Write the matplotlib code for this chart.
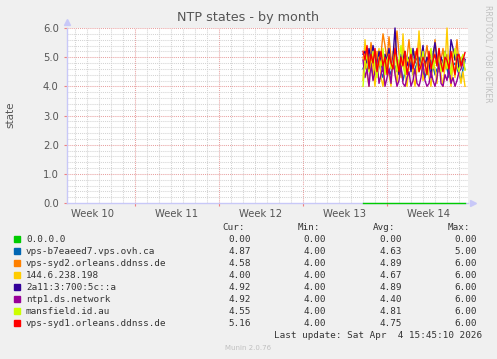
import numpy as np
import matplotlib.pyplot as plt
from matplotlib.patches import Rectangle
from matplotlib.transforms import blended_transform_factory

# --- data ---
# time axis in days from the left edge of the graph, 4 hour steps
t_start = 24.67
t_step = 1 / 6.0

names = ['0.0.0.0', 'vps-b7eaeed7.vps.ovh.ca', 'vps-syd2.orleans.ddnss.de',
         '144.6.238.198', '2a11:3:700:5c::a', 'ntp1.ds.network',
         'mansfield.id.au', 'vps-syd1.orleans.ddnss.de']
colors = ['#00CC00', '#0066B3', '#FF8000', '#FFCC00', '#330099', '#990099',
          '#CCFF00', '#FF0000']

green = [0.0] * 52
blue = [4.6, 4.8, 4.5, 4.9, 4.7, 4.4, 4.6, 5.0, 4.8, 4.5, 4.3, 4.7, 4.9,
        4.6, 4.4, 4.8, 4.7, 4.5, 4.9, 4.6, 4.2, 4.5, 4.8, 4.7, 4.9, 4.4,
        4.6, 4.8, 5.0, 4.7, 4.5, 4.3, 4.6, 4.8, 4.9, 4.7, 4.4, 4.6, 4.5,
        4.8, 4.7, 4.9, 4.6, 4.3, 4.5, 4.7, 4.8, 4.6, 4.4, 4.2, 4.6, 4.87]
orange = [5.0, 4.6, 5.3, 4.8, 5.5, 4.9, 4.4, 5.2, 4.7, 5.1, 5.8, 5.4, 4.9,
          5.7, 5.0, 4.6, 5.3, 5.9, 5.1, 4.8, 5.4, 4.7, 5.0, 5.6, 4.8, 4.5,
          5.2, 4.9, 5.7, 5.1, 4.6, 5.0, 5.4, 4.8, 5.2, 4.7, 5.6, 5.0, 4.5,
          4.9, 5.3, 4.6, 5.1, 4.8, 4.4, 5.2, 4.9, 5.6, 4.7, 5.0, 4.8, 4.58]
yellow = [4.2, 5.6, 4.4, 4.0, 5.1, 4.6, 4.0, 4.8, 5.3, 4.3, 4.0, 4.7, 5.0,
          4.4, 4.0, 5.2, 4.6, 4.1, 4.9, 4.3, 5.8, 4.5, 4.0, 4.7, 5.1, 4.4,
          4.0, 4.6, 5.9, 4.8, 4.2, 4.5, 5.0, 4.3, 4.0, 4.9, 4.6, 4.1, 5.3,
          4.4, 4.0, 4.7, 6.0, 4.5, 4.0, 4.8, 4.3, 5.2, 4.6, 4.1, 4.5, 4.00]
darkblue = [5.1, 5.2, 4.8, 5.3, 4.9, 5.4, 5.0, 4.7, 5.2, 4.8, 4.5, 5.1, 4.9,
            5.3, 4.6, 5.0, 6.0, 4.8, 4.4, 5.1, 4.9, 5.2, 4.7, 5.0, 4.5, 5.3,
            4.8, 5.1, 4.6, 4.9, 5.4, 4.7, 5.0, 4.8, 4.3, 5.1, 5.5, 4.9, 4.6,
            5.0, 4.8, 5.2, 4.7, 4.5, 5.6, 5.3, 4.9, 5.1, 4.6, 4.8, 5.0, 4.92]
purple = [4.9, 4.3, 4.6, 4.0, 4.8, 4.2, 4.5, 4.9, 4.1, 4.4, 4.7, 4.0, 4.3,
          4.6, 4.1, 5.0, 4.4, 4.0, 4.2, 4.7, 4.1, 4.0, 4.3, 4.5, 4.0, 4.2,
          4.6, 4.1, 4.0, 4.3, 4.8, 4.2, 4.0, 4.1, 4.5, 4.2, 4.0, 4.3, 4.9,
          4.1, 4.0, 4.4, 4.2, 4.6, 4.1, 4.3, 4.0, 4.2, 4.5, 4.6, 4.8, 4.92]
lime = [4.0, 4.8, 5.1, 4.5, 4.9, 5.2, 4.6, 4.3, 5.0, 4.7, 5.3, 4.4, 4.9,
        5.1, 4.6, 4.8, 5.2, 4.5, 4.9, 5.4, 4.7, 4.4, 5.0, 4.8, 5.3, 4.6,
        4.9, 5.1, 4.5, 4.8, 5.2, 4.7, 4.4, 5.0, 5.3, 4.6, 4.9, 4.7, 5.1,
        4.5, 4.8, 5.2, 4.6, 4.9, 4.4, 5.0, 5.3, 4.7, 4.5, 4.9, 5.1, 4.55]
red = [5.2, 4.9, 5.4, 4.6, 5.1, 4.8, 5.3, 4.5, 4.9, 5.2, 4.7, 5.0, 4.4,
       5.1, 4.8, 4.6, 5.3, 4.9, 4.5, 5.0, 4.7, 5.2, 4.4, 4.8, 5.1, 4.6,
       4.9, 5.3, 4.5, 4.7, 5.0, 4.8, 4.4, 5.2, 4.6, 4.9, 5.1, 4.7, 5.3,
       4.8, 4.5, 5.0, 4.9, 4.6, 5.2, 4.8, 4.4, 5.0, 5.1, 4.7, 4.9, 5.16]
series = [green, blue, orange, yellow, darkblue, purple, lime, red]

cur = ['0.00', '4.87', '4.58', '4.00', '4.92', '4.92', '4.55', '5.16']
mins = ['0.00', '4.00', '4.00', '4.00', '4.00', '4.00', '4.00', '4.00']
avgs = ['0.00', '4.63', '4.89', '4.67', '4.89', '4.40', '4.81', '4.75']
maxs = ['0.00', '5.00', '6.00', '6.00', '6.00', '6.00', '6.00', '6.00']

week_labels = ['Week 10', 'Week 11', 'Week 12', 'Week 13', 'Week 14']
week_label_pos = [2.15, 9.15, 16.15, 23.15, 30.15]
week_starts = [5.64, 12.64, 19.64, 26.64]
x_max = 33.42

# --- figure ---
W, H = 497, 359
fig = plt.figure(figsize=(W / 100, H / 100), dpi=100, facecolor='#F0F0F0')
ax = fig.add_axes([67 / W, 1 - 203 / H, 401 / W, 175 / H])
ax.set_facecolor('white')
ax.set_xlim(0, x_max)
ax.set_ylim(0, 6)

for s in ['top', 'right']:
    ax.spines[s].set_visible(False)
for s in ['left', 'bottom']:
    ax.spines[s].set_color('#C8C8F8')
    ax.spines[s].set_linewidth(1.0)

dot = (0, (1, 1))
minor_c = '#D4D4D4'
major_c = '#E8A0A0'
# grid
for d in np.arange(week_starts[0] - 5, x_max, 1.0):
    if min(abs(d - w) for w in week_starts) > 0.01:
        ax.axvline(d, color=minor_c, lw=0.75, ls=dot, zorder=0)
for w in week_starts:
    ax.axvline(w, color=major_c, lw=0.75, ls=dot, zorder=0)
for y in np.arange(0.2, 6.01, 0.2):
    if abs(y - round(y)) > 0.01:
        ax.axhline(y, color=minor_c, lw=0.75, ls=dot, zorder=0)
for y in range(1, 7):
    ax.axhline(y, color=major_c, lw=0.75, ls=dot, zorder=0)

# ticks
ax.set_xticks(week_starts)
ax.set_xticklabels([])
ax.tick_params(axis='x', length=2, width=0.8, color='#F08080', direction='out')
ax.set_yticks(range(0, 7))
ax.set_yticklabels([f'{v:.1f}' for v in range(0, 7)])
ax.tick_params(axis='y', length=2, width=0.8, color='#F08080', direction='out',
               labelsize=7.2, labelcolor='#555555', pad=4)
trans = blended_transform_factory(ax.transData, ax.transAxes)
for lab, p in zip(week_labels, week_label_pos):
    ax.text(p, -0.035, lab, transform=trans, ha='center', va='top',
            fontsize=7.2, color='#555555')

# arrows
ax.plot([0], [1.035], marker='^', ms=4, color='#C8C8F8', transform=ax.transAxes,
        clip_on=False)
ax.plot([1.012], [0], marker='>', ms=4, color='#C8C8F8', transform=ax.transAxes,
        clip_on=False)

# data
for vals, c in zip(series, colors):
    tt = t_start + t_step * np.arange(len(vals))
    ax.plot(tt, vals, color=c, lw=1.0, clip_on=False, zorder=3)

# texts
fig.text(248 / W, 1 - 18 / H, 'NTP states - by month', ha='center', va='center',
         fontsize=9.2, color='#555555')
fig.text(10 / W, 1 - 115 / H, 'state', rotation=90, ha='center', va='center',
         fontsize=7.5, color='#555555')
fig.text(488 / W, 1 - 5 / H, 'RRDTOOL / TOBI OETIKER', rotation=270, ha='center',
         va='top', fontsize=5.5, color='#C0C0C0')

mono = dict(family='DejaVu Sans Mono', fontsize=6.7, color='#333333', va='center')
for lab, xr in zip(['Cur:', 'Min:', 'Avg:', 'Max:'], [245, 320, 395, 470]):
    fig.text(xr / W, 1 - 228 / H, lab, ha='right', **mono)
for i in range(len(names)):
    yc = 239 + 12 * i
    fig.patches.append(Rectangle((14 / W, 1 - (yc + 3) / H), 6 / W, 6 / H,
                                 transform=fig.transFigure, color=colors[i]))
    fig.text(26 / W, 1 - yc / H, names[i], ha='left', **mono)
    for v, xr in zip([cur[i], mins[i], avgs[i], maxs[i]], [251, 326, 402, 477]):
        fig.text(xr / W, 1 - yc / H, v, ha='right', **mono)
fig.text(482 / W, 1 - 336 / H, 'Last update: Sat Apr  4 15:45:10 2026',
         ha='right', **mono)
fig.text(248 / W, 1 - 348 / H, 'Munin 2.0.76', ha='center', va='center',
         fontsize=5.0, color='#C0C0C0')

fig.savefig('out.png', dpi=100, facecolor=fig.get_facecolor())
